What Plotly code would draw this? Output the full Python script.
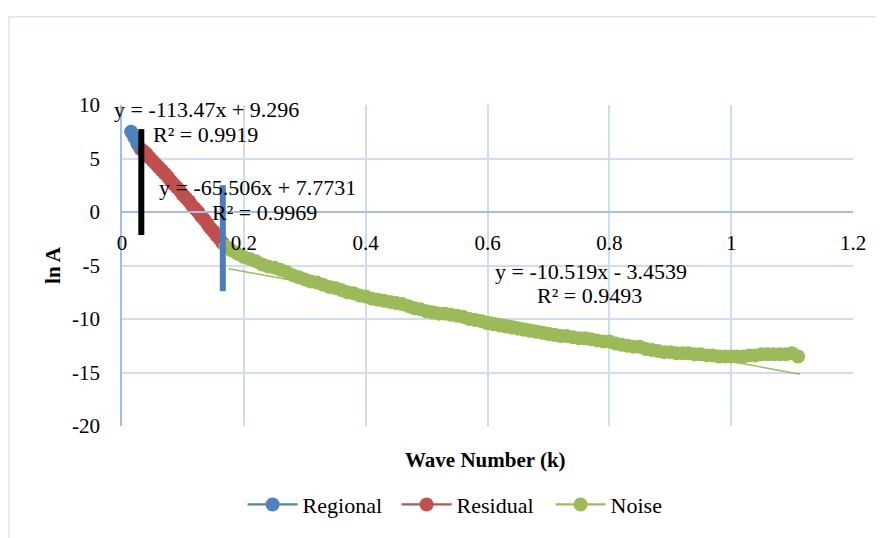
import plotly.graph_objects as go

# ---------------- data ----------------
regional_k = [0.015, 0.020, 0.025, 0.030]
regional_lnA = [7.5, 7.0, 6.4, 5.9]

residual_k = [0.035, 0.040, 0.045, 0.050, 0.055, 0.060, 0.065, 0.070, 0.075,
              0.080, 0.085, 0.090, 0.095, 0.100, 0.105, 0.110, 0.115, 0.120,
              0.125, 0.130, 0.135, 0.140, 0.145, 0.150, 0.155, 0.160, 0.165]
residual_lnA = [5.7, 5.45, 5.1, 4.8, 4.5, 4.2, 3.9, 3.6, 3.3,
                2.9, 2.6, 2.3, 2.0, 1.6, 1.3, 1.0, 0.6, 0.3,
                0.0, -0.4, -0.7, -1.1, -1.5, -1.8, -2.2, -2.5, -2.9]

noise_k = [0.17, 0.18, 0.19, 0.20, 0.21, 0.22, 0.23, 0.24, 0.25, 0.26,
           0.27, 0.28, 0.29, 0.30, 0.31, 0.32, 0.33, 0.34, 0.35, 0.36,
           0.37, 0.38, 0.39, 0.40, 0.41, 0.42, 0.43, 0.44, 0.45, 0.46,
           0.47, 0.48, 0.49, 0.50, 0.51, 0.52, 0.53, 0.54, 0.55, 0.56,
           0.57, 0.58, 0.59, 0.60, 0.61, 0.62, 0.63, 0.64, 0.65, 0.66,
           0.67, 0.68, 0.69, 0.70, 0.71, 0.72, 0.73, 0.74, 0.75, 0.76,
           0.77, 0.78, 0.79, 0.80, 0.81, 0.82, 0.83, 0.84, 0.85, 0.86,
           0.87, 0.88, 0.89, 0.90, 0.91, 0.92, 0.93, 0.94, 0.95, 0.96,
           0.97, 0.98, 0.99, 1.00, 1.01, 1.02, 1.03, 1.04, 1.05, 1.06,
           1.07, 1.08, 1.09, 1.10, 1.11]
noise_lnA = [-3.2, -3.6, -3.9, -4.2, -4.4, -4.6, -4.9, -5.1, -5.2, -5.4,
             -5.6, -5.9, -6.1, -6.3, -6.5, -6.6, -6.8, -7.0, -7.1, -7.3,
             -7.5, -7.6, -7.8, -7.9, -8.1, -8.2, -8.3, -8.4, -8.5, -8.6,
             -8.8, -9.0, -9.1, -9.3, -9.4, -9.5, -9.5, -9.6, -9.7, -9.8,
             -10.0, -10.1, -10.2, -10.4, -10.5, -10.6, -10.7, -10.8, -10.9, -11.0,
             -11.1, -11.2, -11.3, -11.4, -11.5, -11.6, -11.6, -11.7, -11.8, -11.8,
             -11.9, -12.0, -12.1, -12.1, -12.3, -12.4, -12.5, -12.6, -12.6, -12.8,
             -12.9, -13.0, -13.1, -13.1, -13.2, -13.2, -13.2, -13.3, -13.3, -13.4,
             -13.4, -13.5, -13.5, -13.5, -13.5, -13.5, -13.4, -13.4, -13.3, -13.3,
             -13.3, -13.3, -13.3, -13.2, -13.5]

# noise trendline (Excel linear fit) and its drawn extent
noise_slope = -10.519
noise_intercept = -3.4539
noise_trend_k = [0.175, 1.113]

equations = ["y = -113.47x + 9.296", "y = -65.506x + 7.7731", "y = -10.519x - 3.4539"]
r_squared = ["R² = 0.9919", "R² = 0.9969", "R² = 0.9493"]

x_ticks = [0, 0.2, 0.4, 0.6, 0.8, 1, 1.2]
x_ticklabels = ["0", "0.2", "0.4", "0.6", "0.8", "1", "1.2"]
y_ticks = [10, 5, 0, -5, -10, -15, -20]
y_ticklabels = ["10", "5", "0", "-5", "-10", "-15", "-20"]

# ---------------- style ----------------
FONT = "Liberation Serif"
BLUE = "#4F81BD"
RED = "#C0504D"
GREEN = "#9BBB59"
GRID = "#cddef3"
AXIS = "#9fc0e6"

X_RANGE = [0, 1.2]
Y_RANGE = [-20, 10]

fig = go.Figure()

# trendline (beneath markers)
fig.add_trace(go.Scatter(
    x=noise_trend_k,
    y=[noise_slope * k + noise_intercept for k in noise_trend_k],
    mode="lines", line=dict(color=GREEN, width=1.5),
    showlegend=False, hoverinfo="skip"))

for name, xs, ys, col in [("Regional", regional_k, regional_lnA, BLUE),
                          ("Residual", residual_k, residual_lnA, RED),
                          ("Noise", noise_k, noise_lnA, GREEN)]:
    fig.add_trace(go.Scatter(
        x=xs, y=ys, name=name, mode="lines+markers",
        line=dict(color=col, width=2.25),
        marker=dict(color=col, size=14, line=dict(width=0)),
        cliponaxis=False))

# vertical separator bars
fig.add_shape(type="line", xref="x", yref="y", x0=0.0317, x1=0.0317, y0=7.75, y1=-2.15,
              line=dict(color="black", width=6))
fig.add_shape(type="line", xref="x", yref="y", x0=0.1655, x1=0.1655, y0=2.5, y1=-7.4,
              line=dict(color="#4a7dbb", width=6))

# outer chart border
fig.add_shape(type="rect", xref="paper", yref="paper",
              x0=-0.1546, x1=1.3, y0=-0.5, y1=1.275,
              line=dict(color="#dde3ec", width=1.5), layer="below")

# equations
eq_pos = [(0.138, 9.55), (0.2226, 2.25), (0.7693, -5.6)]
r_pos = [(0.1375, 7.25), (0.234, 0.0), (0.7677, -7.85)]
for t, (ex, ey) in zip(equations, eq_pos):
    fig.add_annotation(x=ex, y=ey, xref="x", yref="y", text=t, showarrow=False,
                       font=dict(family=FONT, size=22, color="black"))
for t, (ex, ey) in zip(r_squared, r_pos):
    fig.add_annotation(x=ex, y=ey, xref="x", yref="y", text=t, showarrow=False,
                       font=dict(family=FONT, size=22, color="black"))

# x axis title
fig.add_annotation(x=0.497, y=-0.148, xref="paper", yref="paper",
                   text="<b>Wave Number (k)</b>", showarrow=False,
                   font=dict(family=FONT, size=21, color="black"))

zero_pos = (0 - Y_RANGE[0]) / (Y_RANGE[1] - Y_RANGE[0])

fig.update_layout(
    width=876, height=530,
    margin=dict(l=114, r=31, t=97, b=110),
    paper_bgcolor="white", plot_bgcolor="white",
    font=dict(family=FONT, size=21, color="black"),
    showlegend=True,
    legend=dict(orientation="h", x=0.481, xanchor="center", y=-0.245, yanchor="middle",
                font=dict(family=FONT, size=22, color="black"),
                itemwidth=50, entrywidth=89, entrywidthmode="pixels",
                bgcolor="rgba(0,0,0,0)"),
    xaxis=dict(range=[X_RANGE[0], X_RANGE[1] + 1e-6], tickvals=x_ticks,
               ticktext=x_ticklabels,
               anchor="free", position=zero_pos,
               showline=True, linecolor=AXIS, linewidth=1.5,
               showgrid=True, gridcolor=GRID, gridwidth=1.5,
               zeroline=False, ticks="", ticklabelstandoff=12,
               tickfont=dict(family=FONT, size=21, color="black")),
    yaxis=dict(range=[Y_RANGE[0] - 1e-6, Y_RANGE[1] + 1e-6], tickvals=y_ticks,
               ticktext=y_ticklabels,
               domain=[0, 1],
               showline=True, linecolor=AXIS, linewidth=1.5,
               showgrid=True, gridcolor=GRID, gridwidth=1.5,
               zeroline=False, ticks="", ticklabelstandoff=16,
               tickfont=dict(family=FONT, size=21, color="black"),
               title=dict(text="<b>ln A</b>", standoff=6,
                          font=dict(family=FONT, size=21, color="black"))),
)

fig.write_html("out.html")
